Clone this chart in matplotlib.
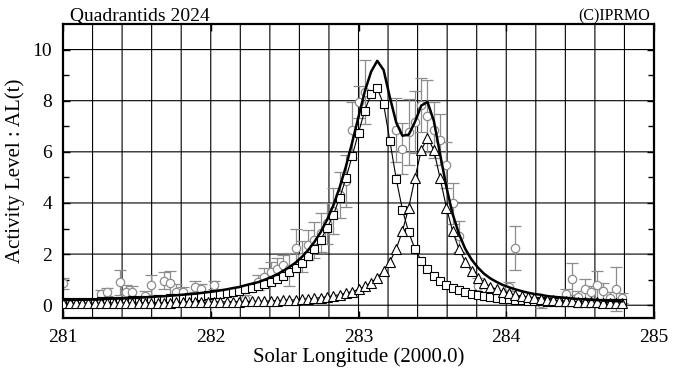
import matplotlib
matplotlib.use("Agg")
import matplotlib.pyplot as plt
import numpy as np

plt.rcParams['font.family'] = ['Liberation Serif', 'DejaVu Serif']

# hourly solar-longitude grid of the model curves
model_x = [281.002, 281.045, 281.087, 281.130, 281.172, 281.215, 281.257, 281.300, 281.342, 281.385,
           281.427, 281.470, 281.512, 281.555, 281.597, 281.640, 281.682, 281.725, 281.767, 281.810,
           281.852, 281.895, 281.937, 281.980, 282.022, 282.065, 282.107, 282.150, 282.192, 282.235,
           282.277, 282.320, 282.362, 282.405, 282.447, 282.490, 282.532, 282.575, 282.617, 282.660,
           282.702, 282.745, 282.787, 282.830, 282.872, 282.915, 282.957, 283.000, 283.042, 283.085,
           283.127,
           283.170, 283.212, 283.255, 283.297, 283.340, 283.382, 283.425, 283.467, 283.510, 283.552,
           283.595, 283.637, 283.680, 283.722, 283.765, 283.807, 283.850, 283.892, 283.935, 283.977,
           284.020, 284.062, 284.105, 284.147, 284.190, 284.232, 284.275, 284.317, 284.360, 284.402,
           284.445, 284.487, 284.530, 284.572, 284.615, 284.657, 284.700, 284.742, 284.785]

# component 1 (squares)
comp1 = [0.12, 0.12, 0.13, 0.13, 0.14, 0.14, 0.15, 0.16, 0.17, 0.17,
         0.18, 0.19, 0.20, 0.21, 0.22, 0.24, 0.25, 0.27, 0.28, 0.30,
         0.32, 0.34, 0.36, 0.39, 0.42, 0.45, 0.49, 0.53, 0.57, 0.63,
         0.69, 0.75, 0.83, 0.92, 1.02, 1.15, 1.29, 1.46, 1.66, 1.91,
         2.21, 2.57, 3.01, 3.54, 4.19, 4.96, 5.83, 6.75, 7.61, 8.25,
         8.48,
         7.86, 6.44, 4.95, 3.74, 2.85, 2.20, 1.74, 1.40, 1.14, 0.95,
         0.80, 0.68, 0.59, 0.51, 0.45, 0.40, 0.35, 0.32, 0.29, 0.26,
         0.24, 0.22, 0.20, 0.18, 0.17, 0.16, 0.14, 0.13, 0.13, 0.12,
         0.11, 0.10, 0.10, 0.09, 0.09, 0.08, 0.08, 0.07, 0.07]

# component 2 (triangles)
comp2 = [0.08, 0.08, 0.08, 0.08, 0.08, 0.08, 0.08, 0.09, 0.09, 0.09,
         0.09, 0.09, 0.09, 0.10, 0.10, 0.10, 0.10, 0.10, 0.11, 0.11,
         0.11, 0.11, 0.12, 0.12, 0.12, 0.13, 0.13, 0.14, 0.14, 0.15,
         0.15, 0.15, 0.16, 0.17, 0.18, 0.19, 0.20, 0.21, 0.23, 0.25,
         0.27, 0.30, 0.33, 0.37, 0.41, 0.47, 0.53, 0.62, 0.74, 0.88,
         1.08, 1.34, 1.70, 2.20, 2.89, 3.82, 4.97, 6.07,
         6.55,
         6.07, 4.97, 3.82, 2.89, 2.20, 1.70, 1.34, 1.08, 0.88, 0.73,
         0.62, 0.53, 0.46, 0.40, 0.35, 0.31, 0.27, 0.25, 0.22, 0.20,
         0.18, 0.17, 0.15, 0.14, 0.13, 0.12, 0.11, 0.10, 0.10, 0.09, 0.08]

# observed activity level (circles) with errors
obs_x = [281.002, 281.257, 281.300, 281.385, 281.427, 281.470, 281.555, 281.597, 281.682, 281.725,
         281.767, 281.810, 281.895, 281.937, 282.022, 282.235, 282.320, 282.362, 282.405, 282.447,
         282.490, 282.532, 282.575, 282.617, 282.660, 282.702, 282.745, 282.787, 282.830, 282.872,
         282.915, 282.957, 283.000, 283.042, 283.255, 283.297, 283.340, 283.382, 283.425, 283.467,
         283.510, 283.552, 283.595, 283.637, 283.680, 283.807, 284.020, 284.062, 284.232, 284.402,
         284.445, 284.487, 284.530, 284.572, 284.615, 284.657, 284.700, 284.742, 284.785]
obs_y = [0.85, 0.43, 0.52, 0.89, 0.50, 0.50, 0.36, 0.78, 0.95, 0.86,
         0.52, 0.50, 0.73, 0.62, 0.80, 0.26, 0.89, 1.12, 1.30, 1.43,
         1.56, 1.40, 2.23, 1.90, 2.36, 2.55, 2.84, 3.20, 3.70, 4.30,
         4.86, 6.85, 7.94, 8.35, 6.85, 6.12, 6.77, 7.16, 7.83, 7.40,
         6.85, 6.48, 5.47, 3.98, 2.70, 0.75, 0.73, 2.23, 0.08, 0.43,
         1.04, 0.34, 0.65, 0.52, 0.78, 0.55, 0.30, 0.64, 0.28]
obs_err = [0.20, 0.15, 0.17, 0.49, 0.28, 0.25, 0.20, 0.39, 0.33, 0.48,
           0.30, 0.20, 0.22, 0.20, 0.15, 0.15, 0.30, 0.35, 0.40, 0.40,
           0.42, 0.65, 0.74, 0.60, 0.60, 0.70, 0.75, 0.80, 0.90, 0.90,
           1.00, 1.08, 0.62, 1.25, 1.25, 1.00, 1.28, 1.20, 1.04, 1.40,
           1.10, 1.00, 0.90, 0.80, 0.60, 0.30, 0.18, 0.86, 0.20, 0.20,
           0.63, 0.20, 0.37, 0.25, 0.56, 0.30, 0.20, 0.85, 0.20]

x_ticks = [281, 282, 283, 284, 285]
y_ticks = [0, 2, 4, 6, 8, 10]

total = np.array(comp1) + np.array(comp2)

W, H = 676, 373
fig = plt.figure(figsize=(W / 100, H / 100), dpi=100)
ax = fig.add_axes([63 / W, 55 / H, 591 / W, 294 / H])

ax.set_xlim(281, 285)
ax.set_ylim(-0.5, 11)

# grid (unsnapped so that lines between pixels render grey, as in the reference)
for gx in np.arange(281.2, 284.9, 0.2):
    ln = ax.axvline(gx, color='black', lw=0.8, zorder=0)
    ln.set_snap(False)
for gy in y_ticks:
    ln = ax.axhline(gy, color='black', lw=0.8, zorder=0)
    ln.set_snap(False)

ax.errorbar(obs_x, obs_y, yerr=obs_err, fmt='o', ms=6, mfc='white', mec='#8c8c8c',
            mew=0.9, ecolor='#8c8c8c', elinewidth=0.9, capsize=4, capthick=0.9, zorder=2)

ax.plot(model_x, comp1, '-s', color='black', lw=0.8, ms=5.8, mfc='white', mec='black',
        mew=0.8, zorder=3)
ax.plot(model_x, comp2, '-^', color='black', lw=0.8, ms=6.8, mfc='white', mec='black',
        mew=0.8, zorder=4)
ax.plot(model_x, total, '-', color='black', lw=1.8, zorder=5)

ax.set_xticks(x_ticks)
ax.set_yticks(y_ticks)
ax.set_yticks([1, 3, 5, 7, 9], minor=True)
ax.tick_params(which='both', direction='in', top=True, right=True, width=1, labelsize=14)
ax.tick_params(which='major', length=5)
ax.tick_params(which='minor', length=4)
ax.tick_params(axis='x', pad=8)
ax.tick_params(axis='y', pad=8)
for s in ax.spines.values():
    s.set_linewidth(1.6)

ax.set_xlabel('Solar Longitude (2000.0)', fontsize=15, labelpad=1)
ax.set_ylabel('Activity Level : AL(t)', fontsize=15, labelpad=5)

fig.text(70 / W, 1 - 21 / H, 'Quadrantids 2024', fontsize=14, ha='left', va='baseline')
fig.text(650 / W, 1 - 20 / H, '(C)IPRMO', fontsize=11.5, ha='right', va='baseline')

fig.savefig('out.png', dpi=100)
